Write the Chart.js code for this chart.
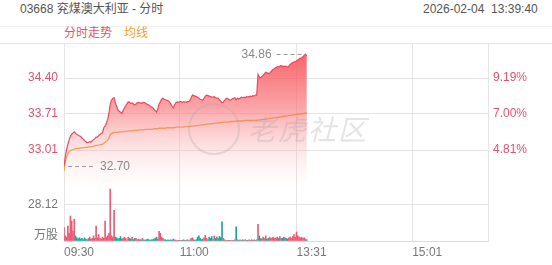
<!DOCTYPE html>
<html>
<head>
<meta charset="utf-8">
<script src="https://cdn.jsdelivr.net/npm/chart.js@4.4.1/dist/chart.umd.min.js"></script>
<style>
  body { margin: 0; width: 552px; height: 265px; background: #fff; overflow: hidden; position: relative;
         font-family: "Liberation Sans", Arial, "Noto Sans CJK SC", sans-serif; font-size: 12px; }
  .abs { position: absolute; line-height: 16px; white-space: pre; }
  #title { left: 20px; top: 1px; color: #555; }
  #stamp { left: 423px; top: 1px; color: #555; }
  #band { position: absolute; left: 0; top: 26px; width: 552px; height: 16px;
          border-top: 1px solid #f2f2f2; border-bottom: 1px solid #e6e6e6; }
  #lg1 { left: 64px; top: 25px; color: #e8506a; }
  #lg2 { left: 124px; top: 25px; color: #f0a030; }
  #priceChart { position: absolute; left: 0; top: 0; }
  #volChart { position: absolute; left: 0; top: 186px; }
  #wmCircle { position: absolute; left: 188px; top: 103px; width: 48px; height: 48px; border-radius: 50%;
              border: 2px solid rgba(170,170,170,0.3); }
  #wmText { left: 248px; top: 116px; font-size: 28px; line-height: 30px; letter-spacing: 2px;
            color: rgba(165,165,165,0.3); font-style: italic; }
</style>
</head>
<body>
<div id="band"></div>
<div class="abs" id="title">03668 兖煤澳大利亚 - 分时</div>
<div class="abs" id="stamp">2026-02-04  13:39:40</div>
<div class="abs" id="lg1">分时走势</div>
<div class="abs" id="lg2">均线</div>
<canvas id="priceChart" width="552" height="186"></canvas>
<canvas id="volChart" width="552" height="79"></canvas>
<div id="wmCircle"></div>
<div class="abs" id="wmText">老虎社区</div>
<script>
  const prevClose = 31.50;
  const timeLabels = ['09:30', '11:00', '13:31', '15:01'];
  const timeTicks = [0, 90, 181, 271, 330];
  const priceTicks = [33.01, 33.71, 34.40];
  const pctLabels = ['4.81%', '7.00%', '9.19%'];
  const volTicks = [0, 28.12];

  // one value per minute, 09:30 .. 13:39
  const price = [
    32.70, 32.88, 33.02, 33.12, 33.20, 33.28, 33.31, 33.34, 33.36, 33.33,
    33.31, 33.30, 33.28, 33.27, 33.24, 33.22, 33.19, 33.17, 33.15, 33.16,
    33.17, 33.16, 33.19, 33.21, 33.23, 33.26, 33.26, 33.29, 33.31, 33.33,
    33.34, 33.44, 33.47, 33.53, 33.60, 33.72, 33.90, 33.97, 34.01, 34.02,
    33.92, 33.85, 33.78, 33.76, 33.74, 33.72, 33.77, 33.82, 33.86, 33.90,
    33.94, 33.93, 33.91, 33.92, 33.90, 33.88, 33.90, 33.92, 33.93, 33.92,
    33.91, 33.92, 33.93, 33.92, 33.90, 33.89, 33.88, 33.86, 33.84, 33.83,
    33.80, 33.77, 33.74, 33.80, 33.90, 33.94, 33.99, 34.01, 33.99, 33.98,
    33.97, 33.96, 33.94, 33.90, 33.86, 33.82, 33.88, 33.92, 33.94, 33.93,
    33.94, 33.95, 33.93, 33.94, 33.94, 33.93, 33.95, 33.94, 33.96, 34.02,
    34.07, 34.06, 34.05, 34.04, 34.03, 34.01, 33.99, 33.98, 33.97, 34.01,
    34.05, 34.07, 34.06, 34.05, 34.04, 34.03, 34.03, 34.04, 34.02, 34.01,
    34.01, 33.98, 33.95, 33.92, 33.93, 33.97, 34.00, 34.01, 33.99, 33.97,
    33.98, 34.00, 34.01, 34.02, 33.98, 34.01, 34.00, 34.01, 34.03, 34.02,
    34.03, 34.02, 34.04, 34.03, 34.04, 34.05, 34.04, 34.06, 34.05, 34.07,
    34.07, 34.47, 34.42, 34.40, 34.43, 34.45, 34.48, 34.51, 34.50, 34.49,
    34.49, 34.52, 34.55, 34.57, 34.59, 34.60, 34.62, 34.61, 34.63, 34.64,
    34.63, 34.62, 34.63, 34.62, 34.61, 34.63, 34.66, 34.68, 34.70, 34.71,
    34.72, 34.73, 34.75, 34.77, 34.78, 34.79, 34.81, 34.84, 34.86, 34.82
  ];
  const avg = [
    32.60, 32.78, 32.88, 32.94, 32.97, 33.00, 33.01, 33.02, 33.03, 33.03,
    33.04, 33.04, 33.04, 33.05, 33.05, 33.05, 33.06, 33.06, 33.06, 33.07,
    33.07, 33.07, 33.08, 33.08, 33.09, 33.10, 33.10, 33.11, 33.11, 33.12,
    33.12, 33.14, 33.16, 33.18, 33.20, 33.24, 33.31, 33.33, 33.34, 33.35,
    33.35, 33.35, 33.35, 33.36, 33.36, 33.36, 33.36, 33.37, 33.37, 33.37,
    33.38, 33.38, 33.38, 33.38, 33.39, 33.39, 33.39, 33.39, 33.40, 33.40,
    33.40, 33.40, 33.40, 33.41, 33.41, 33.41, 33.41, 33.41, 33.41, 33.41,
    33.42, 33.42, 33.42, 33.42, 33.43, 33.43, 33.43, 33.43, 33.43, 33.43,
    33.44, 33.44, 33.44, 33.44, 33.44, 33.44, 33.44, 33.45, 33.45, 33.45,
    33.45, 33.45, 33.45, 33.45, 33.46, 33.46, 33.46, 33.46, 33.46, 33.47,
    33.47, 33.47, 33.48, 33.48, 33.48, 33.49, 33.49, 33.49, 33.50, 33.50,
    33.50, 33.51, 33.51, 33.51, 33.52, 33.52, 33.52, 33.53, 33.53, 33.53,
    33.53, 33.54, 33.54, 33.54, 33.55, 33.55, 33.55, 33.55, 33.55, 33.55,
    33.56, 33.56, 33.56, 33.56, 33.57, 33.57, 33.57, 33.57, 33.57, 33.57,
    33.58, 33.58, 33.58, 33.58, 33.58, 33.58, 33.58, 33.58, 33.58, 33.58,
    33.58, 33.59, 33.59, 33.59, 33.60, 33.60, 33.60, 33.61, 33.61, 33.61,
    33.62, 33.62, 33.62, 33.63, 33.63, 33.64, 33.64, 33.64, 33.65, 33.65,
    33.66, 33.66, 33.66, 33.67, 33.67, 33.68, 33.68, 33.68, 33.69, 33.69,
    33.69, 33.70, 33.70, 33.70, 33.71, 33.71, 33.71, 33.72, 33.72, 33.72
  ];
  // 万股
  const volume = [
    10.5, 4, 3, 11.7, 6, 19.5, 15.6, 7.8, 17, 4,
    2.5, 1.5, 2.5, 1.5, 2, 1, 2.5, 1.5, 1, 2,
    3, 1.5, 2, 4, 2, 11.7, 2.5, 5, 2, 1.5,
    3, 2, 15.6, 3, 4, 6, 40.6, 4, 3, 24,
    3, 2.5, 1.5, 2, 3.5, 1.5, 2, 3, 2, 1,
    3, 2, 1.5, 3, 1, 2, 2, 1, 1.5, 1,
    1, 2, 1, 0.5, 1, 1.5, 1, 0.5, 1, 1,
    1.5, 2, 3, 1.5, 7.5, 6, 3, 2, 1, 1,
    0.5, 1, 0.5, 1, 0.5, 1.5, 1, 0.5, 0.5, 0.5,
    0.5, 0.5, 0.5, 1, 0.5, 0.5, 1, 0.5, 1, 2,
    2.5, 1, 0.5, 1, 3, 4, 2, 1, 1.5, 2.5,
    4.5, 2, 1, 3, 2, 3.5, 1.5, 4, 2, 3,
    2, 3.5, 2.5, 15, 2, 1, 0.5, 0.5, 0.5, 0.5,
    0.5, 0.5, 0.5, 1, 11, 1, 0.5, 1, 0.5, 1,
    0.5, 1, 0.5, 0.5, 1, 0.5, 1, 0.5, 1, 0.5,
    1, 13, 4, 2, 1.5, 3, 2, 4, 1.5, 2,
    3, 2, 2.5, 3, 2, 2.5, 3, 2, 3.5, 2,
    2, 3, 2.5, 2, 1.5, 2.5, 3, 2, 3.5, 5,
    3, 7, 4, 3, 2.5, 3, 2, 2.5, 1.5, 1
  ];

  const font = '"Liberation Sans", Arial, "Noto Sans CJK SC", sans-serif';
  Chart.defaults.font.family = font;
  Chart.defaults.font.size = 12;

  const red = '#e8506a';
  const gridColor = '#e4e4e4';
  const upColor = '#ee5a74', downColor = '#1aa89c', flatColor = '#8e8e8e';

  const toPoints = arr => arr.map((v, i) => ({ x: i, y: v }));
  const volColors = volume.map((v, i) => {
    const d = price[i] - (i ? price[i - 1] : prevClose);
    return d > 0 ? upColor : d < 0 ? downColor : flatColor;
  });

  function fixTicks(values) {
    return scale => { scale.ticks = values.map(v => ({ value: v })); };
  }
  function noPad(scale) {
    scale.paddingTop = 0; scale.paddingBottom = 0;
    scale.paddingLeft = 0; scale.paddingRight = 0;
  }

  const xCommon = {
    type: 'linear', min: 0, max: 330, offset: false,
    afterBuildTicks: fixTicks(timeTicks),
    grid: { color: gridColor, drawTicks: false, offset: false },
    border: { display: false }
  };

  const hiLo = {
    id: 'hiLo',
    afterDatasetsDraw(chart) {
      const { ctx, scales: { x, y } } = chart;
      const hi = Math.max(...price), lo = Math.min(...price);
      const hiX = x.getPixelForValue(price.indexOf(hi));
      const hiY = Math.round(y.getPixelForValue(hi)) + 0.5;
      const loX = x.getPixelForValue(price.indexOf(lo));
      const loY = Math.round(y.getPixelForValue(lo)) + 0.5;
      ctx.save();
      ctx.strokeStyle = '#999';
      ctx.fillStyle = '#888';
      ctx.lineWidth = 1;
      ctx.setLineDash([4, 3]);
      ctx.font = '12px ' + font;
      ctx.textBaseline = 'middle';
      ctx.beginPath();
      ctx.moveTo(hiX - 29, hiY); ctx.lineTo(hiX, hiY);
      ctx.moveTo(loX + 4, loY); ctx.lineTo(loX + 32, loY);
      ctx.stroke();
      ctx.textAlign = 'right';
      ctx.fillText(hi.toFixed(2), hiX - 34, hiY);
      ctx.textAlign = 'left';
      ctx.fillText(lo.toFixed(2), loX + 36, loY);
      ctx.restore();
    }
  };

  const ctxP = document.getElementById('priceChart').getContext('2d');
  new Chart(ctxP, {
    type: 'line',
    data: {
      datasets: [
        {
          data: toPoints(price),
          borderColor: '#ec4860',
          borderWidth: 1.2,
          pointRadius: 0,
          tension: 0,
          fill: 'start',
          backgroundColor: c => {
            const a = c.chart.chartArea;
            if (!a) return 'rgba(246,90,95,0.5)';
            const g = c.chart.ctx.createLinearGradient(0, a.top, 0, a.bottom);
            g.addColorStop(0, 'rgba(246,76,82,0.95)');
            g.addColorStop(0.45, 'rgba(248,115,120,0.65)');
            g.addColorStop(1, 'rgba(255,225,225,0.05)');
            return g;
          }
        },
        {
          data: toPoints(avg),
          borderColor: '#f39a2c',
          borderWidth: 1.3,
          pointRadius: 0,
          tension: 0,
          fill: false
        }
      ]
    },
    options: {
      responsive: false,
      animation: false,
      layout: { padding: { top: 43, left: 0, right: 0, bottom: 0 } },
      plugins: { legend: { display: false }, tooltip: { enabled: false } },
      scales: {
        x: Object.assign({}, xCommon, {
          ticks: { display: false },
          afterFit: s => { s.height = 0; noPad(s); }
        }),
        y: {
          position: 'left', min: 32.315, max: 35.076,
          afterBuildTicks: fixTicks(priceTicks),
          afterFit: s => { s.width = 64; noPad(s); },
          grid: { color: gridColor, drawTicks: false },
          border: { display: false },
          ticks: { color: red, padding: 6, callback: v => v.toFixed(2) }
        },
        yr: {
          position: 'right', min: 32.315, max: 35.076,
          afterBuildTicks: fixTicks(priceTicks),
          afterFit: s => { s.width = 64; noPad(s); },
          grid: { display: false, drawTicks: false },
          border: { display: false },
          ticks: { color: red, padding: 5, callback: (v, i) => pctLabels[i] }
        }
      }
    },
    plugins: [hiLo]
  });

  const unitLabel = {
    id: 'unitLabel',
    afterDraw(chart) {
      const { ctx, chartArea } = chart;
      ctx.save();
      ctx.font = '12px ' + font;
      ctx.fillStyle = '#777';
      ctx.textAlign = 'right';
      ctx.textBaseline = 'bottom';
      ctx.fillText('万股', chartArea.left - 6, chartArea.bottom + 1);
      ctx.restore();
    }
  };

  const ctxV = document.getElementById('volChart').getContext('2d');
  new Chart(ctxV, {
    type: 'bar',
    data: {
      datasets: [{
        data: toPoints(volume),
        backgroundColor: volColors,
        barThickness: 1,
        borderWidth: 0
      }]
    },
    options: {
      responsive: false,
      animation: false,
      layout: { padding: { top: 0, left: 0, right: 64, bottom: 0 } },
      plugins: { legend: { display: false }, tooltip: { enabled: false } },
      scales: {
        x: Object.assign({}, xCommon, {
          border: { display: true, color: '#dcdcdc' },
          ticks: { color: '#777', padding: 4, align: 'start', maxRotation: 0,
                   callback: (v, i) => timeLabels[i] || '' },
          afterFit: s => { s.height = 24; noPad(s); }
        }),
        y: {
          position: 'left', min: 0, max: 42.96,
          afterBuildTicks: fixTicks(volTicks),
          afterFit: s => { s.width = 64; noPad(s); },
          grid: { color: gridColor, drawTicks: false },
          border: { display: false },
          ticks: { color: '#777', padding: 6, callback: v => v ? v.toFixed(2) : '' }
        }
      }
    },
    plugins: [unitLabel]
  });
</script>
</body>
</html>
